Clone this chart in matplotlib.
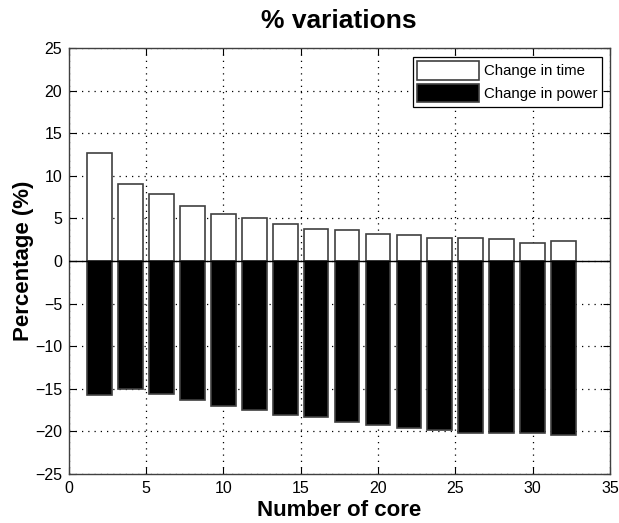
"""
Percent variation of time and power versus number of cores
"""

import matplotlib
matplotlib.use("Agg")
import matplotlib.pyplot as plt

plt.rcParams['font.family'] = ['Liberation Sans', 'DejaVu Sans']

CORES = [2, 4, 6, 8, 10, 12, 14, 16, 18, 20, 22, 24, 26, 28, 30, 32]
TIME_CHANGE = [12.7, 9.1, 7.9, 6.5, 5.5, 5.1, 4.35, 3.75,
               3.6, 3.2, 3.1, 2.75, 2.75, 2.6, 2.15, 2.3]
POWER_CHANGE = [-15.8, -15.0, -15.6, -16.4, -17.1, -17.55, -18.1, -18.4,
                -18.9, -19.3, -19.6, -19.9, -20.2, -20.2, -20.2, -20.5]
X_TICKS = [0, 5, 10, 15, 20, 25, 30, 35]
Y_TICKS = [-25, -20, -15, -10, -5, 0, 5, 10, 15, 20, 25]

BAR_WIDTH = 1.6
EDGE = '#404040'

fig = plt.figure(figsize=(6.19, 5.23), dpi=100)
ax = fig.add_axes([0.1107, 0.0946, 0.8748, 0.8127])

ax.bar(CORES, TIME_CHANGE, width=BAR_WIDTH, color='white',
       edgecolor=EDGE, linewidth=1.2, label='Change in time', zorder=3)
ax.bar(CORES, POWER_CHANGE, width=BAR_WIDTH, color='black',
       edgecolor=EDGE, linewidth=1.2, label='Change in power', zorder=3)
ax.axhline(0, color='black', linewidth=1.0, zorder=4)

ax.set_xlim(0, 35)
ax.set_ylim(-25, 25)
ax.set_xticks(X_TICKS)
ax.set_yticks(Y_TICKS)
ax.grid(True, linestyle=(0, (1, 4)), color='black', linewidth=0.9, zorder=0)
ax.tick_params(direction='in', top=True, right=True, labelsize=11.5,
               length=5, width=0.8)
ax.tick_params(axis='x', pad=5.5)
ax.tick_params(axis='y', pad=4.5)
for sp in ax.spines.values():
    sp.set_color('#404040')
    sp.set_linewidth(1.0)

ax.set_title('% variations', fontsize=19, fontweight='bold', pad=14.5)
ax.set_xlabel('Number of core', fontsize=16, fontweight='bold', labelpad=3)
ax.set_ylabel('Percentage (%)', fontsize=16, fontweight='bold', labelpad=1)

legend = ax.legend(loc='upper right', fontsize=10.8, fancybox=False,
                   framealpha=1, edgecolor='black', handlelength=4.1,
                   handleheight=1.5, borderaxespad=0.55, borderpad=0.3,
                   labelspacing=0.3, handletextpad=0.35)
legend.get_frame().set_linewidth(0.9)

fig.savefig('out.png', dpi=100)
